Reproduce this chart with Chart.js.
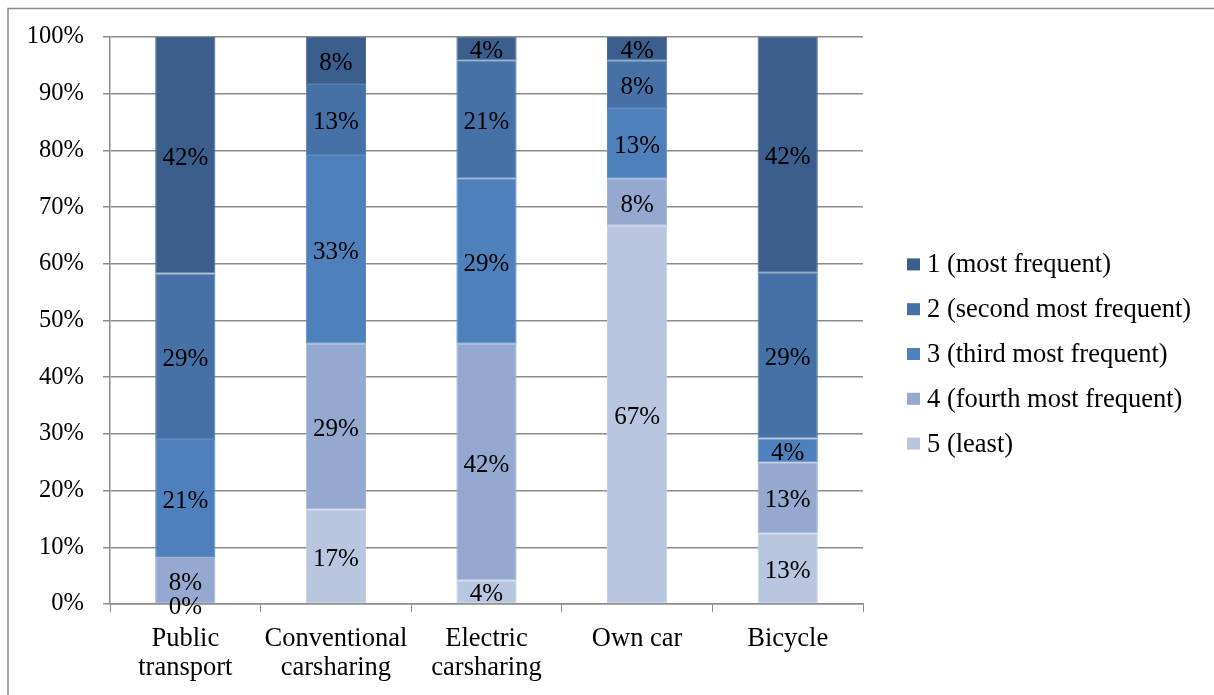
<!DOCTYPE html>
<html>
<head>
<meta charset="utf-8">
<title>Mode ranking</title>
<script src="https://cdn.jsdelivr.net/npm/chart.js@4/dist/chart.umd.min.js"></script>
<style>
    body { margin: 0; background: #fff; }
    #wrap { position: relative; width: 1214px; height: 695px; }
</style>
</head>
<body>
<div id="wrap"><canvas id="grafico"></canvas></div>
<script>
// categorias e séries (percentual de respostas por posição no ranking)
const categorias = [['Public', 'transport'], ['Conventional', 'carsharing'], ['Electric', 'carsharing'], 'Own car', 'Bicycle'];
const rank1 = [41.7, 8.3, 4.2, 4.2, 41.7];
const rank2 = [29.2, 12.5, 20.8, 8.3, 29.2];
const rank3 = [20.8, 33.3, 29.2, 12.5, 4.2];
const rank4 = [8.3, 29.2, 41.7, 8.3, 12.5];
const rank5 = [0, 16.7, 4.2, 66.7, 12.5];
const nomesSeries = ['1 (most frequent)', '2 (second most frequent)', '3 (third most frequent)', '4 (fourth most frequent)', '5 (least)'];
const coresSeries = ['#3b5e8c', '#4571a7', '#4e80bc', '#94a8d0', '#b9c6e0'];
// contorno um pouco mais claro de cada cor
const coresBorda = ['#4d6d98', '#5580b0', '#5e8cc2', '#a1b3d6', '#c3cee5'];

const FONTE = "'Liberation Serif', 'Times New Roman', serif";

// moldura externa (só aparecem as bordas de cima e da esquerda)
const moldura = {
    id: 'moldura',
    beforeDraw(chart) {
        const ctx = chart.ctx;
        ctx.save();
        ctx.strokeStyle = '#8c8c8c';
        ctx.lineWidth = 1.5;
        ctx.beginPath();
        ctx.moveTo(8, chart.height);
        ctx.lineTo(8, 8.5);
        ctx.lineTo(chart.width, 8.5);
        ctx.stroke();
        ctx.restore();
    }
};

// rótulos de valor no meio de cada segmento
const rotulos = {
    id: 'rotulos',
    afterDatasetsDraw(chart) {
        const ctx = chart.ctx;
        ctx.save();
        ctx.font = '25px ' + FONTE;
        ctx.fillStyle = '#000';
        ctx.textAlign = 'center';
        ctx.textBaseline = 'middle';
        chart.data.datasets.forEach((ds, i) => {
            chart.getDatasetMeta(i).data.forEach((barra, j) => {
                const y = (barra.y + barra.base) / 2;
                ctx.fillText(Math.round(ds.data[j]) + '%', barra.x, y + 3);
            });
        });
        ctx.restore();
    }
};

// legenda desenhada à mão, ordem 1 -> 5 de cima para baixo
const legenda = {
    id: 'legenda',
    afterDraw(chart) {
        const ctx = chart.ctx;
        const x0 = chart.chartArea.right + 44;
        const yMeio = chart.height / 2 + 6.5;
        ctx.save();
        ctx.font = '26.5px ' + FONTE;
        ctx.textBaseline = 'middle';
        ctx.textAlign = 'left';
        nomesSeries.forEach((nome, i) => {
            const y = yMeio + (i - 2) * 44.8;
            ctx.fillStyle = coresSeries[i];
            ctx.fillRect(x0, y - 6, 13, 12);
            ctx.fillStyle = '#000';
            ctx.fillText(nome, x0 + 20, y + 1);
        });
        ctx.restore();
    }
};

const series = [rank1, rank2, rank3, rank4, rank5];
// a pilha começa pela série 5 (embaixo) e termina na 1 (em cima)
const datasets = [4, 3, 2, 1, 0].map(i => ({
    label: nomesSeries[i],
    data: series[i],
    backgroundColor: coresSeries[i],
    borderColor: coresBorda[i],
    borderWidth: 1,
    borderSkipped: false,
    barPercentage: 0.4,
    categoryPercentage: 1
}));

new Chart(document.getElementById('grafico'), {
    type: 'bar',
    data: { labels: categorias, datasets: datasets },
    options: {
        responsive: true,
        maintainAspectRatio: false,
        animation: false,
        layout: { padding: { left: 0, top: 37, right: 351, bottom: 0 } },
        plugins: {
            legend: { display: false },
            tooltip: { enabled: false }
        },
        scales: {
            x: {
                stacked: true,
                grid: { drawOnChartArea: false, drawTicks: true, tickLength: 8, color: '#8c8c8c', offset: true },
                border: { color: '#8c8c8c', width: 1.5 },
                ticks: {
                    color: '#000',
                    font: { family: FONTE, size: 26.5, lineHeight: 1.08 },
                    padding: 13,
                    maxRotation: 0,
                    autoSkip: false
                },
                afterFit(scale) { scale.height = 91; }
            },
            y: {
                stacked: true,
                min: 0,
                max: 100,
                grid: { color: '#8c8c8c', lineWidth: 1.5, tickLength: 7 },
                border: { color: '#8c8c8c', width: 1.5 },
                ticks: {
                    stepSize: 10,
                    color: '#000',
                    font: { family: FONTE, size: 24.5 },
                    padding: 19,
                    callback: v => v + '%'
                },
                afterFit(scale) { scale.width = 110; }
            }
        }
    },
    plugins: [moldura, rotulos, legenda]
});
</script>
</body>
</html>
